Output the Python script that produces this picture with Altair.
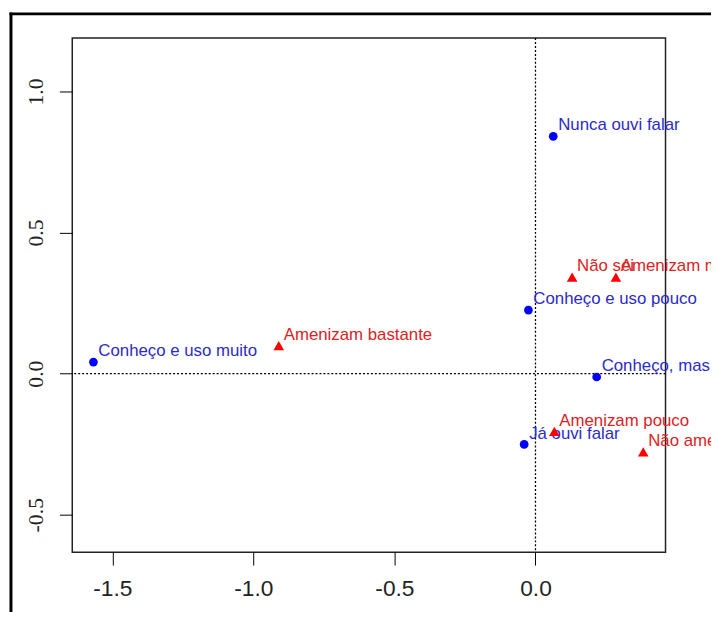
import altair as alt
import pandas as pd

# Row categories (blue circles)
row_labels = ["Nunca ouvi falar", "Conheço e uso pouco", "Conheço e uso muito",
              "Conheço, mas não uso", "Já ouvi falar"]
row_x = [0.063, -0.025, -1.567, 0.217, -0.040]
row_y = [0.841, 0.225, 0.041, -0.012, -0.251]

# Column categories (red triangles)
col_labels = ["Não sei", "Amenizam muito", "Amenizam bastante",
              "Amenizam pouco", "Não amenizam"]
col_x = [0.130, 0.285, -0.910, 0.067, 0.382]
col_y = [0.342, 0.342, 0.099, -0.205, -0.277]

x_ticks = [-1.5, -1.0, -0.5, 0.0]
y_ticks = [-0.5, 0.0, 0.5, 1.0]
x_domain = [-1.642, 0.461]
y_domain = [-0.633, 1.189]

rows = pd.DataFrame({"label": row_labels, "x": row_x, "y": row_y})
cols = pd.DataFrame({"label": col_labels, "x": col_x, "y": col_y})

label_expr = "datum.value < 0 ? '-' + format(-datum.value, '.1f') : format(datum.value, '.1f')"

xs = alt.X("x:Q", scale=alt.Scale(domain=x_domain, nice=False, zero=False),
           axis=alt.Axis(values=x_ticks, title=None, grid=False, domain=False,
                         tickSize=13, tickColor="black", tickWidth=1,
                         labelExpr=label_expr, labelFont="Liberation Sans",
                         labelFontSize=23, labelColor="#222", labelPadding=13))
ys = alt.Y("y:Q", scale=alt.Scale(domain=y_domain, nice=False, zero=False),
           axis=alt.Axis(values=y_ticks, title=None, grid=False, domain=False,
                         tickSize=13, tickColor="black", tickWidth=1,
                         labelExpr=label_expr, labelFont="Liberation Sans Narrow",
                         labelFontSize=22, labelColor="#222", labelAngle=270,
                         labelAlign="center", labelBaseline="alphabetic",
                         labelPadding=17))

zero = pd.DataFrame({"v": [0.0]})
vline = alt.Chart(zero).mark_rule(color="black", strokeDash=[2, 2], strokeWidth=1.3).encode(x=alt.X("v:Q"))
hline = alt.Chart(zero).mark_rule(color="black", strokeDash=[2, 2], strokeWidth=1.3).encode(y=alt.Y("v:Q"))

row_pts = alt.Chart(rows).mark_point(shape="circle", filled=True, size=78, color="#0000ff", opacity=1).encode(x=xs, y=ys)
row_txt = alt.Chart(rows).mark_text(align="left", baseline="alphabetic", dx=5, dy=-6,
                                    font="Liberation Sans", fontSize=17, color="#2b2bc8").encode(
    x="x:Q", y="y:Q", text="label:N")
col_pts = alt.Chart(cols).mark_point(shape="triangle-up", filled=True, size=115, color="#ff0000", opacity=1).encode(x="x:Q", y="y:Q")
col_txt = alt.Chart(cols).mark_text(align="left", baseline="alphabetic", dx=5, dy=-6,
                                    font="Liberation Sans", fontSize=17, color="#dd2222").encode(
    x="x:Q", y="y:Q", text="label:N")

one = pd.DataFrame({"a": [0]})
frame_top = alt.Chart(one).mark_rule(color="black", strokeWidth=3).encode(
    x=alt.value(-63.5), x2=alt.value(720), y=alt.value(-24.5))
frame_left = alt.Chart(one).mark_rule(color="black", strokeWidth=3).encode(
    x=alt.value(-62), y=alt.value(-26), y2=alt.value(700))

chart = alt.layer(vline, hline, row_pts, row_txt, col_pts, col_txt, frame_top, frame_left).properties(
    width=600, height=520,
    autosize=alt.AutoSizeParams(type="none"),
    padding={"left": 65, "top": 27, "right": 46, "bottom": 57},
    background="white",
).configure_view(stroke="#222", strokeWidth=1.5)

chart.save("out.html", embed_options={"renderer": "svg", "actions": False})
